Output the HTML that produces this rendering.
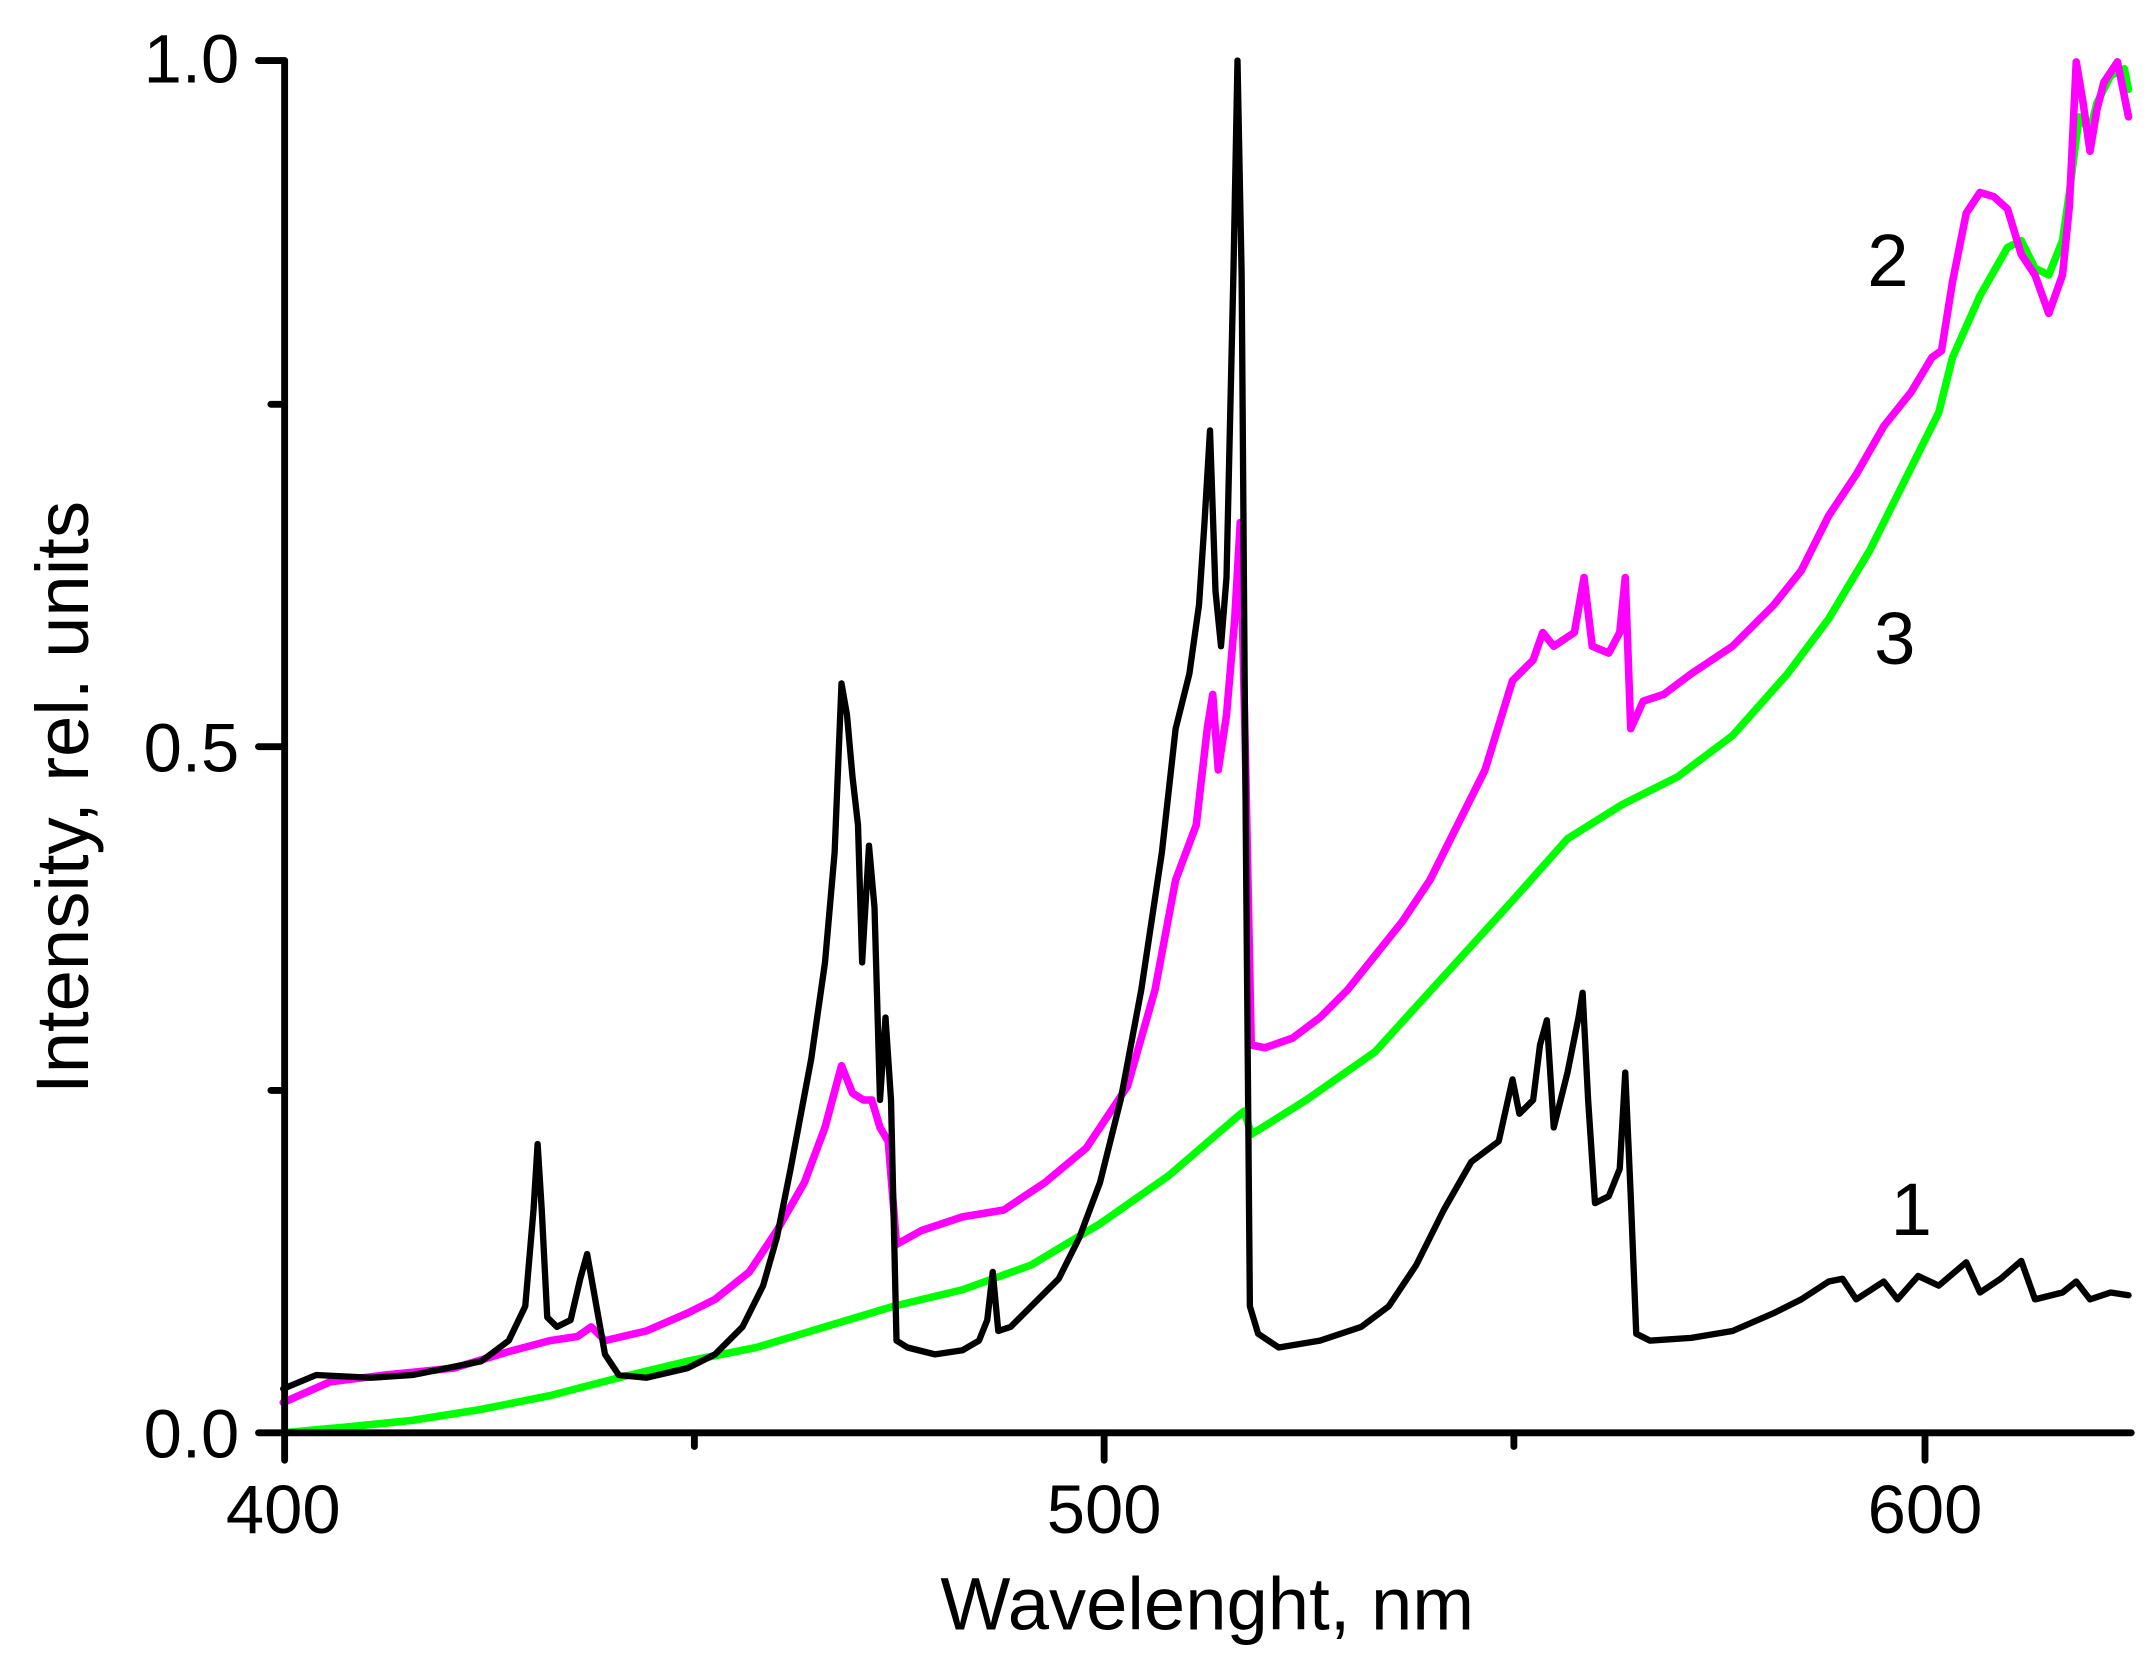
<!DOCTYPE html>
<html><head><meta charset="utf-8"><style>
html,body{margin:0;padding:0;background:#fff;}
svg{display:block;}
text{font-family:"Liberation Sans",Arial,sans-serif;fill:#000;}
</style></head><body>
<svg width="2156" height="1668" viewBox="0 0 1568 1213.09" xmlns="http://www.w3.org/2000/svg">
<rect width="1568" height="1214" fill="#fff"/>
<g fill="none" stroke-linejoin="round" stroke-linecap="round">
<polyline stroke="#00ff00" stroke-width="5.5" points="206,1042 250,1038 300,1033 350,1025 400,1015 450,1002 500,990 550,980 600,965 650,950 700,938 750,920 800,890 850,855 900,812 905,808 910,825 950,800 1000,765 1050,710 1100,655 1140,610 1180,585 1220,565 1260,535 1300,490 1330,450 1360,400 1390,340 1410,300 1420,260 1440,215 1460,180 1470,175 1480,195 1490,200 1500,175 1505,140 1512,85 1520,95 1525,75 1535,55 1545,50 1548,65"/>
<polyline stroke="#ff00ff" stroke-width="5.5" points="206,1020 240,1005 280,1000 330,995 370,983 400,975 420,972 430,965 440,975 470,968 500,955 520,945 545,925 565,895 585,860 600,820 612,775 620,795 628,800 634,800 640,820 646,830 652,905 670,895 700,885 730,880 760,860 790,835 820,790 840,720 855,640 870,600 878,530 882,505 886,560 892,520 898,450 902,380 906,560 910,760 920,762 940,755 960,740 980,720 1000,695 1020,670 1040,640 1060,600 1080,560 1100,495 1115,480 1122,460 1130,470 1145,460 1152,420 1158,470 1170,475 1178,460 1182,420 1186,530 1195,510 1210,505 1230,490 1260,470 1290,440 1310,415 1330,375 1350,345 1370,310 1390,285 1405,260 1412,255 1420,205 1430,155 1440,140 1450,143 1460,152 1470,185 1480,200 1490,228 1500,200 1505,150 1510,45 1515,75 1520,110 1525,80 1530,60 1540,45 1548,85"/>
<polyline stroke="#000" stroke-width="4.6" points="206,1010 230,1000 270,1002 300,1000 350,990 370,975 382,950 388,880 391,832 394,880 398,958 405,965 415,960 422,930 427,912 432,940 440,985 450,1000 470,1002 500,995 520,985 540,965 555,935 565,900 575,850 590,770 600,700 607,620 612,497 616,520 620,565 624,600 627,700 632,615 636,660 640,800 644,740 648,800 652,975 660,980 680,985 700,982 712,975 718,960 722,925 726,968 735,965 750,950 770,930 785,900 800,860 815,800 830,720 845,620 855,530 865,490 872,440 876,380 880,313 884,430 888,470 892,420 897,200 900,44 903,200 906,600 909,950 915,970 930,980 960,975 990,965 1010,950 1030,920 1050,880 1070,845 1090,830 1100,785 1105,810 1115,800 1120,760 1125,742 1130,820 1140,780 1148,740 1151,722 1155,800 1160,875 1170,870 1178,850 1182,780 1186,870 1190,970 1200,975 1230,973 1260,968 1290,955 1310,945 1330,932 1340,930 1350,945 1370,932 1380,945 1395,928 1410,935 1430,918 1440,940 1455,930 1470,917 1480,945 1500,940 1510,932 1520,945 1535,940 1548,942"/>
</g>
<g stroke="#000" stroke-width="5" stroke-linecap="round" fill="none">
<line x1="207" y1="44" x2="207" y2="1062"/>
<line x1="188" y1="1042" x2="1550" y2="1042"/>
<line x1="188" y1="44" x2="207" y2="44"/>
<line x1="188" y1="543" x2="207" y2="543"/>
<line x1="197" y1="294" x2="207" y2="294"/>
<line x1="197" y1="793" x2="207" y2="793"/>
<line x1="803" y1="1042" x2="803" y2="1062"/>
<line x1="1400" y1="1042" x2="1400" y2="1062"/>
<line x1="505" y1="1042" x2="505" y2="1052"/>
<line x1="1101" y1="1042" x2="1101" y2="1052"/>
</g>
<g font-size="50">
<text x="174" y="60" text-anchor="end">1.0</text>
<text x="174" y="561" text-anchor="end">0.5</text>
<text x="174" y="1060" text-anchor="end">0.0</text>
<text x="206" y="1115" text-anchor="middle">400</text>
<text x="803" y="1115" text-anchor="middle">500</text>
<text x="1400" y="1115" text-anchor="middle">600</text>
</g>
<text x="878" y="1185" font-size="54" text-anchor="middle">Wavelenght, nm</text>
<text transform="translate(64,580) rotate(-90)" font-size="54" text-anchor="middle">Intensity, rel. units</text>
<g font-size="54" text-anchor="middle">
<text x="1373" y="208">2</text>
<text x="1378" y="483">3</text>
<text x="1390" y="898">1</text>
</g>
</svg>
</body></html>
